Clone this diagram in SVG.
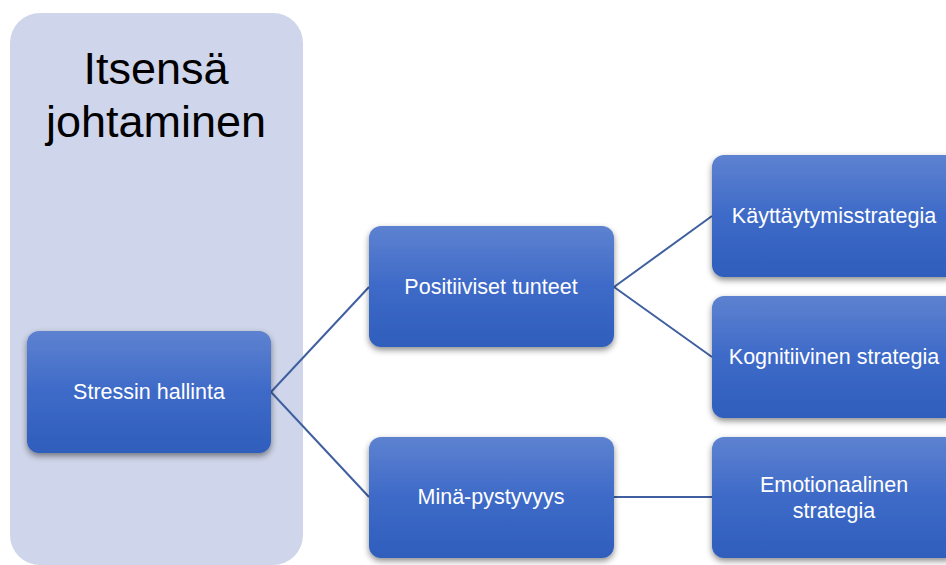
<svg xmlns="http://www.w3.org/2000/svg" width="946" height="565" viewBox="0 0 946 565">
<defs>
<linearGradient id="g" x1="0" y1="0" x2="0" y2="1">
<stop offset="0" stop-color="#5D82D0"/>
<stop offset="0.5" stop-color="#3E6AC8"/>
<stop offset="1" stop-color="#2F5EBC"/>
</linearGradient>
<filter id="sh" x="-10%" y="-10%" width="120%" height="130%">
<feDropShadow dx="0" dy="3" stdDeviation="3" flood-color="#000" flood-opacity="0.45"/>
</filter>
<style>
.box{fill:url(#g);filter:url(#sh)}
.t{font-family:"Liberation Sans",Arial,sans-serif;font-size:21.5px;fill:#fff;text-anchor:middle}
.big{font-family:"Liberation Sans",Arial,sans-serif;font-size:45px;fill:#000;text-anchor:middle}
.c{stroke:#3F5F9F;stroke-width:2;fill:none}
</style>
</defs>
<rect width="946" height="565" fill="#fff"/>
<g id="panel">
<rect x="10" y="13" width="293" height="552" rx="30" fill="#CFD5EA"/>
<text class="big" x="156" y="84">Itsensä</text>
<text class="big" x="156" y="137">johtaminen</text>
</g>
<g id="connectors">
<line class="c" x1="271" y1="392" x2="369" y2="287"/>
<line class="c" x1="271" y1="392" x2="369" y2="497"/>
<line class="c" x1="614" y1="287" x2="712" y2="216"/>
<line class="c" x1="614" y1="287" x2="712" y2="357"/>
<line class="c" x1="614" y1="497" x2="712" y2="497"/>
</g>
<g id="stressin">
<rect class="box" x="27" y="331" width="244" height="122" rx="12"/>
<text class="t" x="149" y="399">Stressin hallinta</text>
</g>
<g id="positiiviset">
<rect class="box" x="369" y="226" width="245" height="121" rx="12"/>
<text class="t" x="491" y="294">Positiiviset tunteet</text>
</g>
<g id="mina">
<rect class="box" x="369" y="437" width="245" height="121" rx="12"/>
<text class="t" x="491" y="504">Minä-pystyvyys</text>
</g>
<g id="kayttaytymis">
<rect class="box" x="712" y="155" width="245" height="122" rx="12"/>
<text class="t" x="834" y="223">Käyttäytymisstrategia</text>
</g>
<g id="kognitiivinen">
<rect class="box" x="712" y="296" width="245" height="122" rx="12"/>
<text class="t" x="834" y="364">Kognitiivinen strategia</text>
</g>
<g id="emotionaalinen">
<rect class="box" x="712" y="437" width="245" height="121" rx="12"/>
<text class="t" x="834" y="492">Emotionaalinen</text>
<text class="t" x="834" y="518">strategia</text>
</g>
</svg>
